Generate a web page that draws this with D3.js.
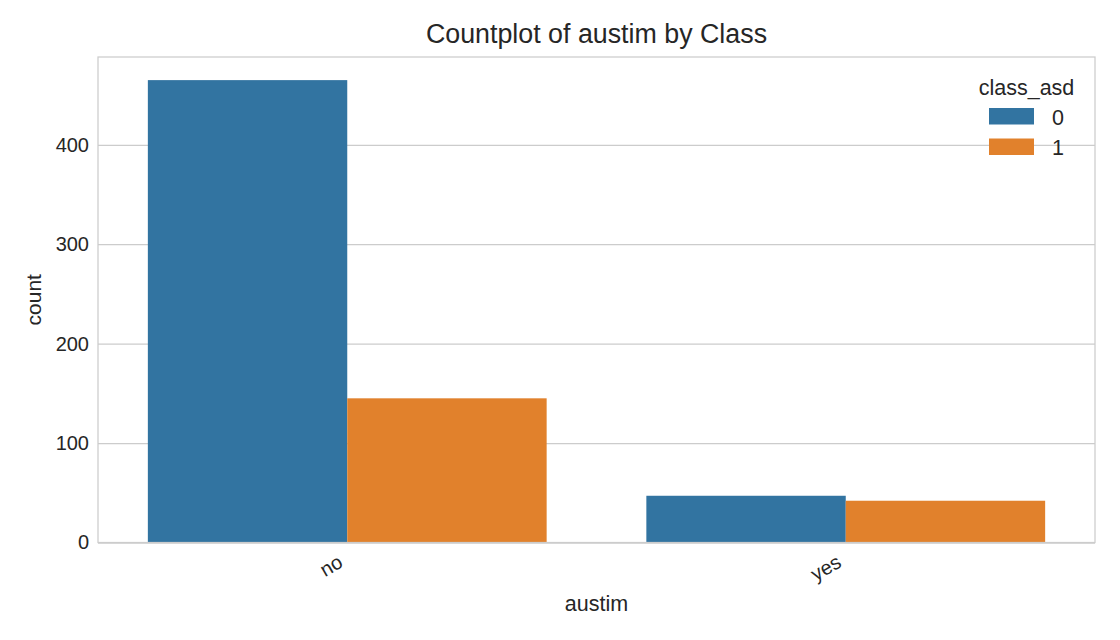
<!DOCTYPE html>
<html>
<head>
<meta charset="utf-8">
<script src="https://cdn.jsdelivr.net/npm/d3@7"></script>
<style>
  body { margin: 0; background: #fff; }
  text { font-family: "Liberation Sans", Arial, sans-serif; fill: #262626; }
</style>
</head>
<body>
<svg id="chart"></svg>
<script>
// chart data
const categories = ['no', 'yes'];
const hues = ['0', '1'];
const countsClass0 = [465, 47];
const countsClass1 = [145, 42];
const yTicks = [0, 100, 200, 300, 400];
const hueColors = ['#3274a1', '#e1812c'];

const width = 1120;
const height = 640;
const margin = { top: 57, right: 25, bottom: 97.5, left: 98 };

const svg = d3.select('#chart')
    .attr('width', width)
    .attr('height', height);

const rows = categories.map((c, i) => ({
    category: c,
    values: [countsClass0[i], countsClass1[i]]
}));

// scales
const xScale = d3.scaleBand()
    .domain(categories)
    .range([margin.left, width - margin.right])
    .padding(0);

const bw = xScale.bandwidth();
const hueScale = d3.scaleBand()
    .domain(hues)
    .range([bw * 0.1, bw * 0.9])
    .padding(0);

const yMax = d3.max([...countsClass0, ...countsClass1]) * 1.05;
const yScale = d3.scaleLinear()
    .domain([0, yMax])
    .range([height - margin.bottom, margin.top]);

// horizontal grid lines
svg.append('g')
    .attr('transform', `translate(${margin.left}, 0)`)
    .call(d3.axisLeft(yScale).tickValues(yTicks).tickSize(-(width - margin.left - margin.right)).tickFormat(''))
    .call(g => g.select('.domain').remove())
    .call(g => g.selectAll('line').attr('stroke', '#cccccc').attr('stroke-width', 1.25));

// bars
const groups = svg.append('g')
    .selectAll('g')
    .data(rows)
    .enter().append('g')
    .attr('transform', d => `translate(${xScale(d.category)}, 0)`);

groups.selectAll('rect')
    .data(d => d.values.map((v, j) => ({ hue: hues[j], value: v })))
    .enter().append('rect')
    .attr('x', d => hueScale(d.hue))
    .attr('y', d => yScale(d.value))
    .attr('width', hueScale.bandwidth())
    .attr('height', d => yScale(0) - yScale(d.value))
    .attr('fill', (d, j) => hueColors[j]);

// frame (spines)
svg.append('rect')
    .attr('x', margin.left)
    .attr('y', margin.top)
    .attr('width', width - margin.left - margin.right)
    .attr('height', height - margin.top - margin.bottom)
    .attr('fill', 'none')
    .attr('stroke', '#cccccc')
    .attr('stroke-width', 1.25);

// y axis labels
const yAxis = svg.append('g')
    .attr('transform', `translate(${margin.left}, 0)`)
    .call(d3.axisLeft(yScale).tickValues(yTicks).tickSize(0).tickPadding(9));
yAxis.select('.domain').remove();
yAxis.selectAll('text')
    .style('font-size', '20px')
    .style('fill', '#262626')
    .attr('font-family', null);

// x axis labels, rotated 30 degrees
const xAxis = svg.append('g')
    .attr('transform', `translate(0, ${height - margin.bottom})`)
    .call(d3.axisBottom(xScale).tickSize(0));
xAxis.select('.domain').remove();
xAxis.selectAll('text')
    .attr('y', null)
    .attr('dy', null)
    .attr('font-family', null)
    .style('font-size', '20px')
    .style('fill', '#262626')
    .style('text-anchor', 'end')
    .attr('transform', 'translate(-3, 23.5) rotate(-30)');

// axis titles
svg.append('text')
    .attr('x', (margin.left + width - margin.right) / 2)
    .attr('y', 611)
    .attr('text-anchor', 'middle')
    .style('font-size', '21.5px')
    .text('austim');

svg.append('text')
    .attr('transform', `translate(41, ${(margin.top + height - margin.bottom) / 2}) rotate(-90)`)
    .attr('text-anchor', 'middle')
    .style('font-size', '21px')
    .text('count');

// chart title
svg.append('text')
    .attr('x', (margin.left + width - margin.right) / 2)
    .attr('y', 43)
    .attr('text-anchor', 'middle')
    .style('font-size', '26.8px')
    .text('Countplot of austim by Class');

// legend
const legend = svg.append('g');
legend.append('text')
    .attr('x', 1026.5)
    .attr('y', 95)
    .attr('text-anchor', 'middle')
    .style('font-size', '21.5px')
    .text('class_asd');

const items = legend.selectAll('.item')
    .data(hues)
    .enter().append('g')
    .attr('class', 'item')
    .attr('transform', (d, i) => `translate(989, ${108 + i * 30.5})`);

items.append('rect')
    .attr('width', 45)
    .attr('height', 16.5)
    .attr('fill', (d, i) => hueColors[i]);

items.append('text')
    .attr('x', 63)
    .attr('y', 16.5)
    .style('font-size', '21.5px')
    .text(d => d);
</script>
</body>
</html>
